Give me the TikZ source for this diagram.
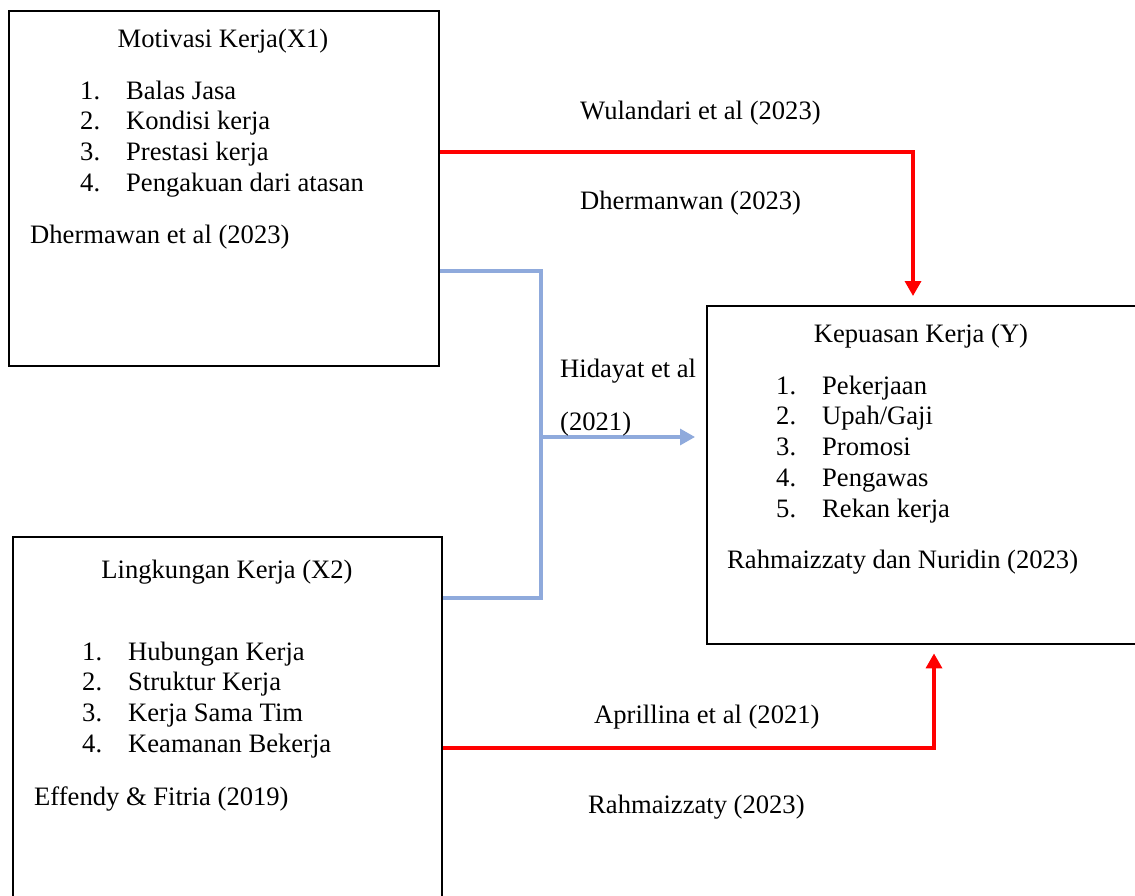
\documentclass[tikz,border=0pt]{standalone}
\usepackage{fontspec}
\setmainfont{Liberation Serif}
\usepackage{tikz}
\usetikzlibrary{positioning, arrows.meta}
\definecolor{linkblue}{HTML}{8FAADC}
\newcommand{\numitem}[2]{\makebox[46pt][l]{#1}#2}

\begin{document}
\begin{tikzpicture}[
            x=1pt, y=1pt,
            block/.style={rectangle, draw, line width=2.4pt, anchor=north west, inner sep=0pt},
            txt/.style={anchor=base west, inner sep=0pt},
            redarrow/.style={draw=red, line width=3.4pt, -{Triangle[length=15pt, width=16pt]}},
            blueline/.style={draw=linkblue, line width=3.2pt},
            bluearrow/.style={blueline, -{Triangle[length=15pt, width=16pt]}},
            every node/.style={font=\fontsize{26.6}{31}\selectfont}
        ]
        \useasboundingbox (0,0) rectangle (1135,-895);

        % Blocks
        \node[block, minimum width=430pt, minimum height=355pt] (x1) at (8,-10) {};
        \node[block, minimum width=440pt, minimum height=338pt] (ybox) at (706,-305) {};
        \node[block, minimum width=429pt, minimum height=380pt] (x2) at (12,-536) {};

        % Motivasi kerja
        \node[anchor=base] (x1title) at (223,-47) {Motivasi Kerja(X1)};
        \foreach \t [count=\i] in {Balas Jasa, Kondisi kerja, Prestasi kerja, Pengakuan dari atasan}
            \node[txt] (x1item\i) at (80,{-99-30.8*(\i-1)}) {\numitem{\i.}{\t}};
        \node[txt] (x1src) at (30,-243) {Dhermawan et al (2023)};

        % Kepuasan kerja
        \node[anchor=base] (ytitle) at (921,-342) {Kepuasan Kerja (Y)};
        \foreach \t [count=\i] in {Pekerjaan, Upah/Gaji, Promosi, Pengawas, Rekan kerja}
            \node[txt] (yitem\i) at (776,{-394-30.8*(\i-1)}) {\numitem{\i.}{\t}};
        \node[txt] (ysrc) at (727,-568) {Rahmaizzaty dan Nuridin (2023)};

        % Lingkungan kerja
        \node[anchor=base] (x2title) at (227,-578) {Lingkungan Kerja (X2)};
        \foreach \t [count=\i] in {Hubungan Kerja, Struktur Kerja, Kerja Sama Tim, Keamanan Bekerja}
            \node[txt] (x2item\i) at (82,{-660-30.8*(\i-1)}) {\numitem{\i.}{\t}};
        \node[txt] (x2src) at (34,-805) {Effendy \& Fitria (2019)};

        % links
        \draw[redarrow, shorten >=9pt] ([yshift=-142pt]x1.north east) -| ([xshift=207pt]ybox.north west);
        \node[txt] (wul) at (580,-119) {Wulandari et al (2023)};
        \node[txt] (dher) at (580,-209) {Dhermanwan (2023)};

        \coordinate (split) at (541,-437);
        \draw[blueline] ([yshift=-261pt]x1.north east) -| (split) |- ([yshift=-62pt]x2.north east);
        \draw[bluearrow, shorten >=11pt] (split) -- (split -| ybox.west);
        \node[txt] (hid) at (560,-377) {Hidayat et al};
        \node[txt] (hidyr) at (560,-430) {(2021)};

        \draw[redarrow, shorten >=8pt] ([yshift=-212pt]x2.north east) -| ([xshift=228pt]ybox.south west);
        \node[txt] (apr) at (594,-723) {Aprillina et al (2021)};
        \node[txt] (rah) at (588,-813) {Rahmaizzaty (2023)};

    \end{tikzpicture}
\end{document}
